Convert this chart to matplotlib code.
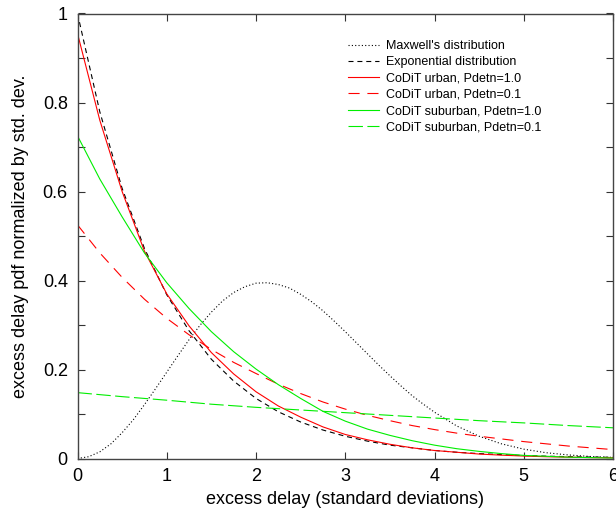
import numpy as np
import matplotlib
import matplotlib.pyplot as plt
from matplotlib.ticker import MultipleLocator
matplotlib.use("Agg")

# excess delay in standard deviations (0.25 steps)
delay = [0.0, 0.25, 0.5, 0.75, 1.0, 1.25, 1.5, 1.75, 2.0, 2.25, 2.5, 2.75, 3.0,
         3.25, 3.5, 3.75, 4.0, 4.25, 4.5, 4.75, 5.0, 5.25, 5.5, 5.75, 6.0]

# Maxwell curve read on a finer grid up to 4
delay_mx = [0.0, 0.125, 0.25, 0.375, 0.5, 0.625, 0.75, 0.875, 1.0, 1.125, 1.25,
            1.375, 1.5, 1.625, 1.75, 1.875, 2.0, 2.125, 2.25, 2.375, 2.5,
            2.625, 2.75, 2.875, 3.0, 3.125, 3.25, 3.375, 3.5, 3.625, 3.75,
            3.875, 4.0, 4.25, 4.5, 4.75, 5.0, 5.25, 5.5, 5.75, 6.0]
maxwell = [0.0, 0.004, 0.015, 0.033, 0.058, 0.087, 0.121, 0.157, 0.194, 0.231,
           0.267, 0.300, 0.329, 0.354, 0.373, 0.386, 0.394, 0.395, 0.391,
           0.383, 0.369, 0.352, 0.332, 0.309, 0.285, 0.260, 0.235, 0.210,
           0.186, 0.163, 0.141, 0.122, 0.104, 0.073, 0.050, 0.033, 0.021,
           0.013, 0.008, 0.0045, 0.0025]

exponential = [1.0, 0.779, 0.607, 0.472, 0.368, 0.287, 0.223, 0.174, 0.135,
               0.105, 0.082, 0.064, 0.050, 0.039, 0.030, 0.024, 0.018, 0.014,
               0.011, 0.0087, 0.0067, 0.0052, 0.0041, 0.0032, 0.0025]

urban_p10 = [0.955, 0.76, 0.60, 0.466, 0.370, 0.298, 0.238, 0.19, 0.150, 0.118,
             0.093, 0.071, 0.054, 0.042, 0.032, 0.024, 0.018, 0.014, 0.010,
             0.0075, 0.0055, 0.004, 0.003, 0.002, 0.0015]

urban_p01 = [0.525, 0.462, 0.407, 0.358, 0.315, 0.278, 0.245, 0.216, 0.191,
             0.167, 0.146, 0.127, 0.111, 0.097, 0.085, 0.074, 0.065, 0.057,
             0.050, 0.044, 0.038, 0.033, 0.028, 0.024, 0.020]

suburban_p10 = [0.725, 0.628, 0.543, 0.462, 0.395, 0.337, 0.285, 0.240, 0.201,
                0.166, 0.135, 0.106, 0.084, 0.066, 0.052, 0.040, 0.030, 0.022,
                0.016, 0.011, 0.007, 0.005, 0.003, 0.002, 0.001]

suburban_p01 = [0.148, 0.1435, 0.139, 0.135, 0.131, 0.1265, 0.122, 0.1185,
                0.115, 0.112, 0.109, 0.106, 0.103, 0.100, 0.097, 0.094, 0.091,
                0.088, 0.085, 0.0825, 0.080, 0.077, 0.074, 0.0715, 0.069]

labels = [
    "Maxwell's distribution",
    "Exponential distribution",
    "CoDiT urban, Pdetn=1.0",
    "CoDiT urban, Pdetn=0.1",
    "CoDiT suburban, Pdetn=1.0",
    "CoDiT suburban, Pdetn=0.1",
]

plt.rcParams["font.family"] = ["Liberation Sans", "DejaVu Sans"]

fig = plt.figure(figsize=(6.16, 5.15), dpi=100)
ax = fig.add_axes([77.5 / 616, 1 - 458.5 / 515, 535.5 / 616, 445 / 515])

lw = 0.8
ax.plot(delay_mx, maxwell, color="black", lw=lw, linestyle=(0, (1, 2)), label=labels[0])
ax.plot(delay, exponential, color="black", lw=lw, linestyle=(0, (4.5, 3.5)), label=labels[1])
ax.plot(delay, urban_p10, color="#ff0000", lw=lw, label=labels[2])
ax.plot(delay, urban_p01, color="#ff0000", lw=lw, linestyle=(0, (10, 7)), label=labels[3])
ax.plot(delay, suburban_p10, color="#00ee00", lw=lw, label=labels[4])
ax.plot(delay, suburban_p01, color="#00ee00", lw=lw, linestyle=(0, (13, 4)), label=labels[5])

ax.set_xlim(0, 6)
ax.set_ylim(0, 1)
ax.xaxis.set_major_locator(MultipleLocator(1))
ax.yaxis.set_major_locator(MultipleLocator(0.2))
ax.yaxis.set_minor_locator(MultipleLocator(0.1))
ax.yaxis.set_major_formatter(plt.FuncFormatter(lambda v, p: f"{v:g}"))
ax.tick_params(which="both", direction="in", top=True, right=True,
               length=5, width=0.8, labelsize=13, pad=7, color="#333333")

for spine in ax.spines.values():
    spine.set_color("#444444")
    spine.set_linewidth(1.0)

ax.set_xlabel("excess delay (standard deviations)", fontsize=13, labelpad=4)
ax.set_ylabel("excess delay pdf normalized by std. dev.", fontsize=13, labelpad=10)

ax.legend(loc="upper left", bbox_to_anchor=(348 / 616, 1 - 40 / 515),
          bbox_transform=fig.transFigure, frameon=False, fontsize=9,
          borderpad=0, borderaxespad=0, handlelength=2.5,
          handletextpad=0.56, labelspacing=0.34)

fig.savefig("out.png", dpi=100)
